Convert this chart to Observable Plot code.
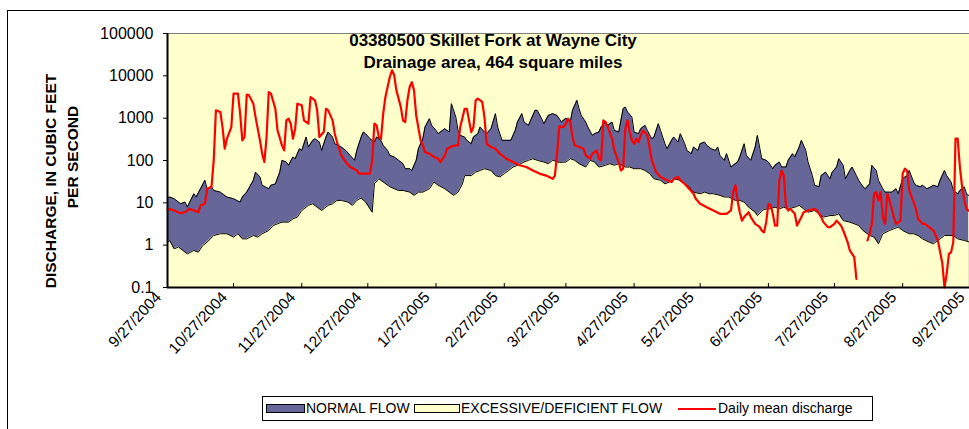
<!DOCTYPE html>
<html><head><meta charset="utf-8">
<script src="https://cdn.jsdelivr.net/npm/d3@7"></script>
<script src="https://cdn.jsdelivr.net/npm/@observablehq/plot@0.6"></script>
<style>
html,body{margin:0;padding:0;background:#fff;overflow:hidden;width:969px;height:429px}
#wrap{position:relative;width:969px;height:429px;overflow:hidden;font-family:"Liberation Sans",Arial,sans-serif;color:#000}
#frame{position:absolute;left:7px;top:10px;width:1000px;height:440px;border:1.5px solid #000;box-sizing:border-box}
#chart{position:absolute;left:0;top:0;width:981px}
#chart svg{max-width:none !important;width:981px;height:385px}
#title{position:absolute;left:243px;width:500px;top:30px;text-align:center;font-weight:bold;font-size:17px;line-height:22px}
.ylab{position:absolute;white-space:nowrap;font-weight:bold;font-size:15.5px;transform:translate(-50%,-50%) rotate(-90deg)}
#legend{position:absolute;left:262px;top:396px;width:611px;height:25px;border:1px solid #000;box-sizing:border-box;font-size:14px;background:#fff}
.sw{position:absolute;top:7px;height:9px;border:1px solid #000;box-sizing:border-box}
.ln{position:absolute;top:10.5px;height:2px;background:#ff0000}
.tx{position:absolute;top:3px;white-space:nowrap;line-height:17px}
</style></head>
<body><div id="wrap"><div id="frame"></div><div id="chart"></div>
<div id="title"></div>
<div class="ylab" id="yl1" style="left:51px;top:181px"></div>
<div class="ylab" id="yl2" style="left:73px;top:157px"></div>
<div id="legend"></div>
</div>
<script>
const titleLines = ["03380500 Skillet Fork at Wayne City", "Drainage area, 464 square miles"];
const yTitleLines = ["DISCHARGE, IN CUBIC FEET", "PER SECOND"];
const legendLabels = ["NORMAL FLOW", "EXCESSIVE/DEFICIENT FLOW", "Daily mean discharge"];
const startDate = "9/27/2004";
const endDate = "9/30/2005";
const xTickLabels = ["9/27/2004","10/27/2004","11/27/2004","12/27/2004","1/27/2005","2/27/2005","3/27/2005","4/27/2005","5/27/2005","6/27/2005","7/27/2005","8/27/2005","9/27/2005"];
const yTicks = [0.1, 1, 10, 100, 1000, 10000, 100000];

// [day since 9/27/2004, cubic feet per second]
const normalHigh = [[0,13],[1,13.7],[3,12.5],[6,9.5],[8,10.4],[9,7.9],[12,16.4],[13,13.7],[15,21.5],[17,34],[18,21.5],[20,24],[21,19.6],[24,17.9],[27,13.7],[30,12.5],[33,10.4],[34,13.7],[36,17.9],[39,34],[40,53],[42,41],[43,26],[46,21.5],[47,26],[49,28],[51,53],[52,101],[54,92],[55,77],[57,121],[58,110],[60,190],[61,173],[63,358],[64,208],[66,299],[67,327],[69,273],[70,173],[72,358],[73,470],[75,358],[76,249],[79,208],[81,173],[83,132],[85,101],[86,173],[88,358],[89,470],[90,430],[92,327],[94,273],[95,358],[97,299],[98,228],[100,173],[101,132],[103,121],[105,101],[107,84],[108,64],[110,64],[111,58],[113,101],[114,190],[116,327],[117,617],[119,971],[120,676],[122,515],[123,430],[125,515],[126,564],[128,470],[129,2200],[131,1060],[132,515],[133,392],[135,358],[136,299],[138,249],[139,358],[141,430],[142,617],[144,470],[145,430],[147,564],[149,1280],[150,617],[152,299],[154,299],[156,299],[158,515],[159,810],[161,1280],[162,810],[164,676],[165,887],[167,1530],[168,1530],[170,971],[171,740],[173,1160],[175,1280],[177,1160],[179,810],[181,1000],[183,810],[184,1530],[186,2640],[187,1670],[188,1160],[190,810],[191,617],[193,392],[194,430],[196,470],[197,617],[199,810],[200,676],[202,810],[203,515],[205,470],[207,1670],[208,1830],[209,1400],[211,1060],[212,470],[214,430],[215,564],[217,676],[218,515],[220,327],[221,358],[223,740],[224,515],[226,249],[227,190],[229,299],[230,358],[232,273],[233,430],[235,249],[236,173],[238,145],[239,208],[241,173],[242,249],[244,273],[245,228],[247,190],[249,173],[250,208],[251,132],[253,101],[254,145],[256,70],[257,77],[259,92],[260,121],[262,249],[263,132],[265,101],[267,208],[268,392],[270,110],[272,101],[273,92],[275,64],[276,77],[278,92],[279,70],[281,70],[282,101],[284,145],[285,121],[287,208],[288,299],[290,173],[291,92],[293,44],[294,26],[296,24],[297,44],[299,53],[301,37],[302,53],[304,70],[305,110],[307,77],[308,37],[310,58],[311,70],[313,44],[314,34],[316,24],[317,21.5],[319,28],[320,77],[322,58],[323,34],[325,21.5],[326,17.9],[328,17.9],[329,17.9],[331,21.5],[332,16.4],[334,37],[336,44],[337,58],[339,31],[340,26],[342,24],[343,26],[345,21.5],[347,24],[348,26],[350,24],[351,34],[353,58],[354,44],[356,31],[357,19.6],[359,16.4],[360,19.6],[362,24],[363,16.4],[364,15]];

const normalLow = [[0,1.15],[1,1.29],[3,0.82],[5,0.9],[7,0.75],[9,0.62],[12,0.75],[14,0.68],[16,0.98],[18,1.18],[21,1.69],[24,1.86],[27,1.86],[30,1.55],[32,1.86],[34,1.41],[36,1.41],[39,1.69],[41,1.55],[43,1.86],[46,2.22],[48,2.9],[50,3.2],[52,3.5],[55,3.5],[57,4.2],[59,4.6],[61,6.6],[64,8.7],[66,9.5],[68,7.9],[70,6.6],[73,8.7],[75,9.5],[77,11.4],[79,11.4],[82,10.4],[84,8.7],[86,11.4],[88,13],[90,10.4],[91,8.7],[93,6.0],[94,28],[96,37],[98,31],[101,24],[103,21.5],[105,19.6],[107,19.6],[110,17.9],[112,15],[114,17.9],[116,17.9],[119,21.5],[121,31],[123,26],[126,21.5],[128,17.9],[130,15],[132,17.9],[134,28],[135,44],[138,44],[140,53],[142,58],[144,64],[147,58],[149,44],[151,41],[153,49],[155,58],[157,70],[159,77],[162,92],[164,101],[166,110],[168,101],[171,92],[173,84],[175,101],[178,90],[181,92],[183,110],[185,101],[187,84],[190,70],[192,101],[194,92],[196,70],[199,77],[201,84],[203,77],[205,84],[208,70],[210,70],[212,64],[215,64],[217,58],[219,49],[221,37],[224,34],[226,28],[228,31],[230,37],[233,34],[235,28],[237,24],[239,17.9],[242,16.4],[244,17.9],[246,16.4],[248,16.4],[251,15],[253,13.7],[255,13.7],[258,11.4],[260,11.4],[262,10.4],[264,7.9],[267,6.0],[268,5.0],[270,6.3],[271,7.0],[273,7.2],[276,7.9],[278,7.2],[280,7.9],[282,7.2],[285,7.9],[287,8.7],[289,7.2],[291,6.0],[294,6.6],[296,5.5],[298,4.6],[301,5.0],[303,5.0],[305,5.5],[307,3.8],[310,3.5],[312,3.2],[314,2.9],[316,2.22],[319,1.69],[321,1.55],[323,1.08],[325,1.86],[328,2.22],[330,2.44],[332,2.67],[334,2.22],[337,1.86],[339,1.86],[341,1.69],[343,1.41],[346,1.18],[348,1.08],[350,1.29],[353,1.69],[355,1.69],[357,1.69],[359,1.41],[362,1.29],[364,1.2]];

const dailyMean = [[0,6.8],[1,7.2],[3,6.6],[6,5.7],[8,6.0],[10,7.2],[12,6.6],[14,6.0],[15,8.7],[17,9.5],[18,21.5],[20,24],[21,101],[22,1530],[24,1400],[25,617],[26,190],[27,327],[29,617],[30,3790],[32,3790],[33,1280],[34,299],[35,358],[36,3600],[37,3460],[39,2200],[40,1060],[42,299],[43,145],[44,92],[45,358],[46,4150],[47,3790],[49,1670],[50,515],[52,228],[53,173],[54,887],[55,971],[56,740],[57,327],[58,564],[59,2200],[61,2010],[62,887],[64,740],[65,3160],[67,2640],[68,1530],[69,358],[71,470],[72,1670],[73,1530],[75,887],[76,430],[77,273],[79,132],[81,92],[83,70],[86,58],[87,49],[92,49],[93,101],[94,740],[95,676],[96,358],[97,327],[98,1280],[99,3160],[101,9380],[102,13500],[103,10300],[104,4540],[106,1830],[107,887],[108,810],[109,2640],[110,5450],[111,7100],[112,4540],[113,1160],[115,299],[116,228],[117,158],[119,145],[121,121],[123,110],[124,92],[126,132],[127,190],[129,215],[131,228],[132,228],[133,617],[135,1670],[136,1670],[137,887],[138,470],[139,617],[140,2640],[141,2890],[143,2410],[144,1060],[145,249],[147,208],[149,190],[151,145],[154,110],[157,92],[160,77],[163,70],[166,58],[169,49],[172,44],[175,37],[176,44],[177,145],[178,640],[180,617],[181,750],[182,971],[183,810],[184,358],[185,228],[187,208],[189,190],[190,132],[192,110],[193,145],[195,173],[196,110],[197,101],[198,887],[199,810],[200,617],[202,327],[203,173],[205,92],[206,58],[207,64],[208,564],[209,887],[210,470],[211,299],[212,249],[213,327],[214,273],[215,392],[216,515],[218,392],[219,208],[220,101],[222,53],[224,41],[227,34],[229,31],[230,37],[232,41],[233,34],[235,28],[237,21.5],[239,16.4],[240,12.5],[242,9.5],[245,7.9],[248,6.6],[251,5.5],[254,5.5],[256,6.6],[257,17.9],[258,26],[259,11.4],[260,6.0],[261,3.8],[262,4.6],[264,6.0],[265,4.6],[267,3.2],[269,2.7],[270,2.2],[271,2.0],[272,3.5],[273,9.5],[274,8.7],[275,5.5],[276,2.9],[277,2.9],[278,34],[279,58],[280,44],[281,7.9],[282,6.6],[283,7.2],[285,5.5],[286,2.9],[288,4.6],[289,6.0],[291,6.6],[294,7.2],[295,6.6],[297,4.6],[298,3.5],[300,2.67],[301,2.67],[303,3.2],[304,3.8],[306,2.9],[307,2.22],[309,1.18],[310,0.75],[312,0.52],[313,0.16],[315,null],[318,1.29],[319,1.86],[320,3.2],[321,16.4],[322,17.9],[323,11.4],[324,17.9],[325,4.6],[326,3.2],[327,16.4],[328,11.4],[329,7.2],[330,4.6],[331,3.2],[333,3.8],[334,49],[335,64],[336,58],[337,19.6],[339,10.4],[340,7.2],[341,4.2],[343,3.2],[344,3.2],[346,2.67],[348,2.22],[350,1.29],[352,0.38],[353,0.1],[354,0.21],[355,0.62],[356,0.68],[357,1.18],[358,327],[359,327],[360,70],[361,24],[362,11.4],[363,7.2],[364,6.5]];

const parse = d3.utcParse("%m/%d/%Y");
const t0 = parse(startDate);
const toRows = arr => arr.map(([d, v]) => ({date: d3.utcDay.offset(t0, d), v}));
const hi = toRows(normalHigh), lo = toRows(normalLow), dm = toRows(dailyMean);
const xTicks = xTickLabels.map(parse);
const labelOf = new Map(xTicks.map((d, i) => [+d, xTickLabels[i]]));
const yMin = yTicks[0];

const chart = Plot.plot({
  width: 981, height: 385,
  marginLeft: 167, marginRight: 4, marginTop: 33, marginBottom: 98,
  x: {type: "utc", domain: [t0, parse(endDate)]},
  y: {type: "log", domain: [yTicks[0], yTicks[yTicks.length - 1]]},
  style: {fontFamily: "'Liberation Sans', Arial, sans-serif", background: "transparent", overflow: "visible", color: "#000", maxWidth: "none"},
  marks: [
    Plot.frame({fill: "#FFFFCC", stroke: "#808080"}),
    Plot.areaY(hi, {x: "date", y1: yMin, y2: "v", fill: "#666699"}),
    Plot.areaY(lo, {x: "date", y1: yMin, y2: "v", fill: "#FFFFCC"}),
    Plot.lineY(hi, {x: "date", y: "v", stroke: "#000", strokeWidth: 1}),
    Plot.lineY(lo, {x: "date", y: "v", stroke: "#000", strokeWidth: 1}),
    Plot.lineY(dm, {x: "date", y: "v", stroke: "#FF0000", strokeWidth: 2.2}),
    Plot.ruleX([t0], {stroke: "#000", strokeWidth: 2}),
    Plot.ruleY([yMin], {stroke: "#000", strokeWidth: 2}),
    Plot.axisY({ticks: yTicks, tickFormat: d => String(d), tickSize: 4, tickPadding: 10, label: null, fontSize: 16}),
    Plot.axisX({ticks: xTicks, tickFormat: null, text: null, tickSize: -4, label: null}),
    Plot.axisX({ticks: xTicks, tickFormat: d => labelOf.get(+d), tickSize: 0, tickPadding: 7, tickRotate: -47, dx: -9, label: null, fontSize: 15.5})
  ]
});
document.getElementById("chart").appendChild(chart);
document.getElementById("title").innerHTML = titleLines.join("<br>");
document.getElementById("yl1").textContent = yTitleLines[0];
document.getElementById("yl2").textContent = yTitleLines[1];
const lg = document.getElementById("legend");
lg.innerHTML =
  `<span class="sw" style="left:3px;width:39px;background:#666699"></span><span class="tx" style="left:43px">${legendLabels[0]}</span>` +
  `<span class="sw" style="left:151px;width:46px;background:#FFFFCC"></span><span class="tx" style="left:198px">${legendLabels[1]}</span>` +
  `<span class="ln" style="left:415px;width:38px"></span><span class="tx" style="left:455px">${legendLabels[2]}</span>`;
</script></body></html>
